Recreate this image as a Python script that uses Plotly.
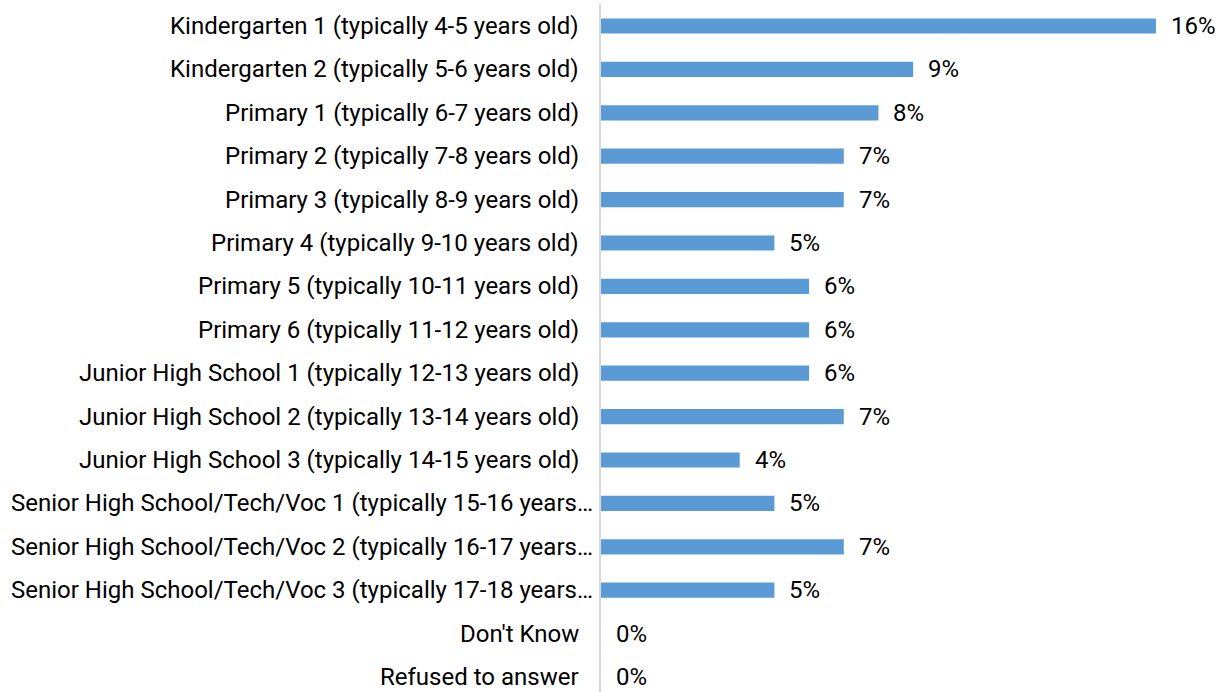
import plotly.graph_objects as go

categories = [
    "Kindergarten 1 (typically 4-5 years old)",
    "Kindergarten 2 (typically 5-6 years old)",
    "Primary 1 (typically 6-7 years old)",
    "Primary 2 (typically 7-8 years old)",
    "Primary 3 (typically 8-9 years old)",
    "Primary 4 (typically 9-10 years old)",
    "Primary 5 (typically 10-11 years old)",
    "Primary 6 (typically 11-12 years old)",
    "Junior High School 1 (typically 12-13 years old)",
    "Junior High School 2 (typically 13-14 years old)",
    "Junior High School 3 (typically 14-15 years old)",
    "Senior High School/Tech/Voc 1 (typically 15-16 years…",
    "Senior High School/Tech/Voc 2 (typically 16-17 years…",
    "Senior High School/Tech/Voc 3 (typically 17-18 years…",
    "Don't Know",
    "Refused to answer",
]
values = [16, 9, 8, 7, 7, 5, 6, 6, 6, 7, 4, 5, 7, 5, 0, 0]
labels = [f"{v}%" for v in values]

FONT = "Roboto, 'Noto Sans', sans-serif"
FS = 24

fig = go.Figure()
fig.add_trace(go.Bar(
    x=values, y=categories, orientation="h",
    marker=dict(color="#5B9BD5", line=dict(width=0)),
    hoverinfo="skip",
))

# value labels to the right of each bar
for v, c, t in zip(values, categories, labels):
    fig.add_annotation(x=v, y=c, text=t, showarrow=False, xanchor="left",
                       xshift=13, font=dict(family=FONT, size=FS, color="#000000"))

# category labels: truncated (long) labels fill the label area, others right-aligned
for c in categories:
    shift = -6 if c.endswith("…") else -20
    fig.add_annotation(x=0, y=c, text=c, showarrow=False, xanchor="right",
                       xshift=shift, font=dict(family=FONT, size=FS, color="#000000"))

fig.update_layout(
    width=1226, height=692,
    margin=dict(l=601, r=0, t=4, b=0, autoexpand=False),
    paper_bgcolor="white", plot_bgcolor="white",
    bargap=0.65,
    showlegend=False,
    font=dict(family=FONT, size=FS, color="#000000"),
    xaxis=dict(range=[0, 18.02], visible=False, fixedrange=True, automargin=False),
    yaxis=dict(
        categoryorder="array", categoryarray=categories,
        range=[15.346, -0.507],
        automargin=False, fixedrange=True,
        showline=True, linecolor="#D9D9D9", linewidth=2,
        showticklabels=False, ticks="",
        showgrid=False, zeroline=False,
    ),
)

fig.write_html("out.html", config={"displayModeBar": False},
               post_script="document.body.style.margin='0';")
